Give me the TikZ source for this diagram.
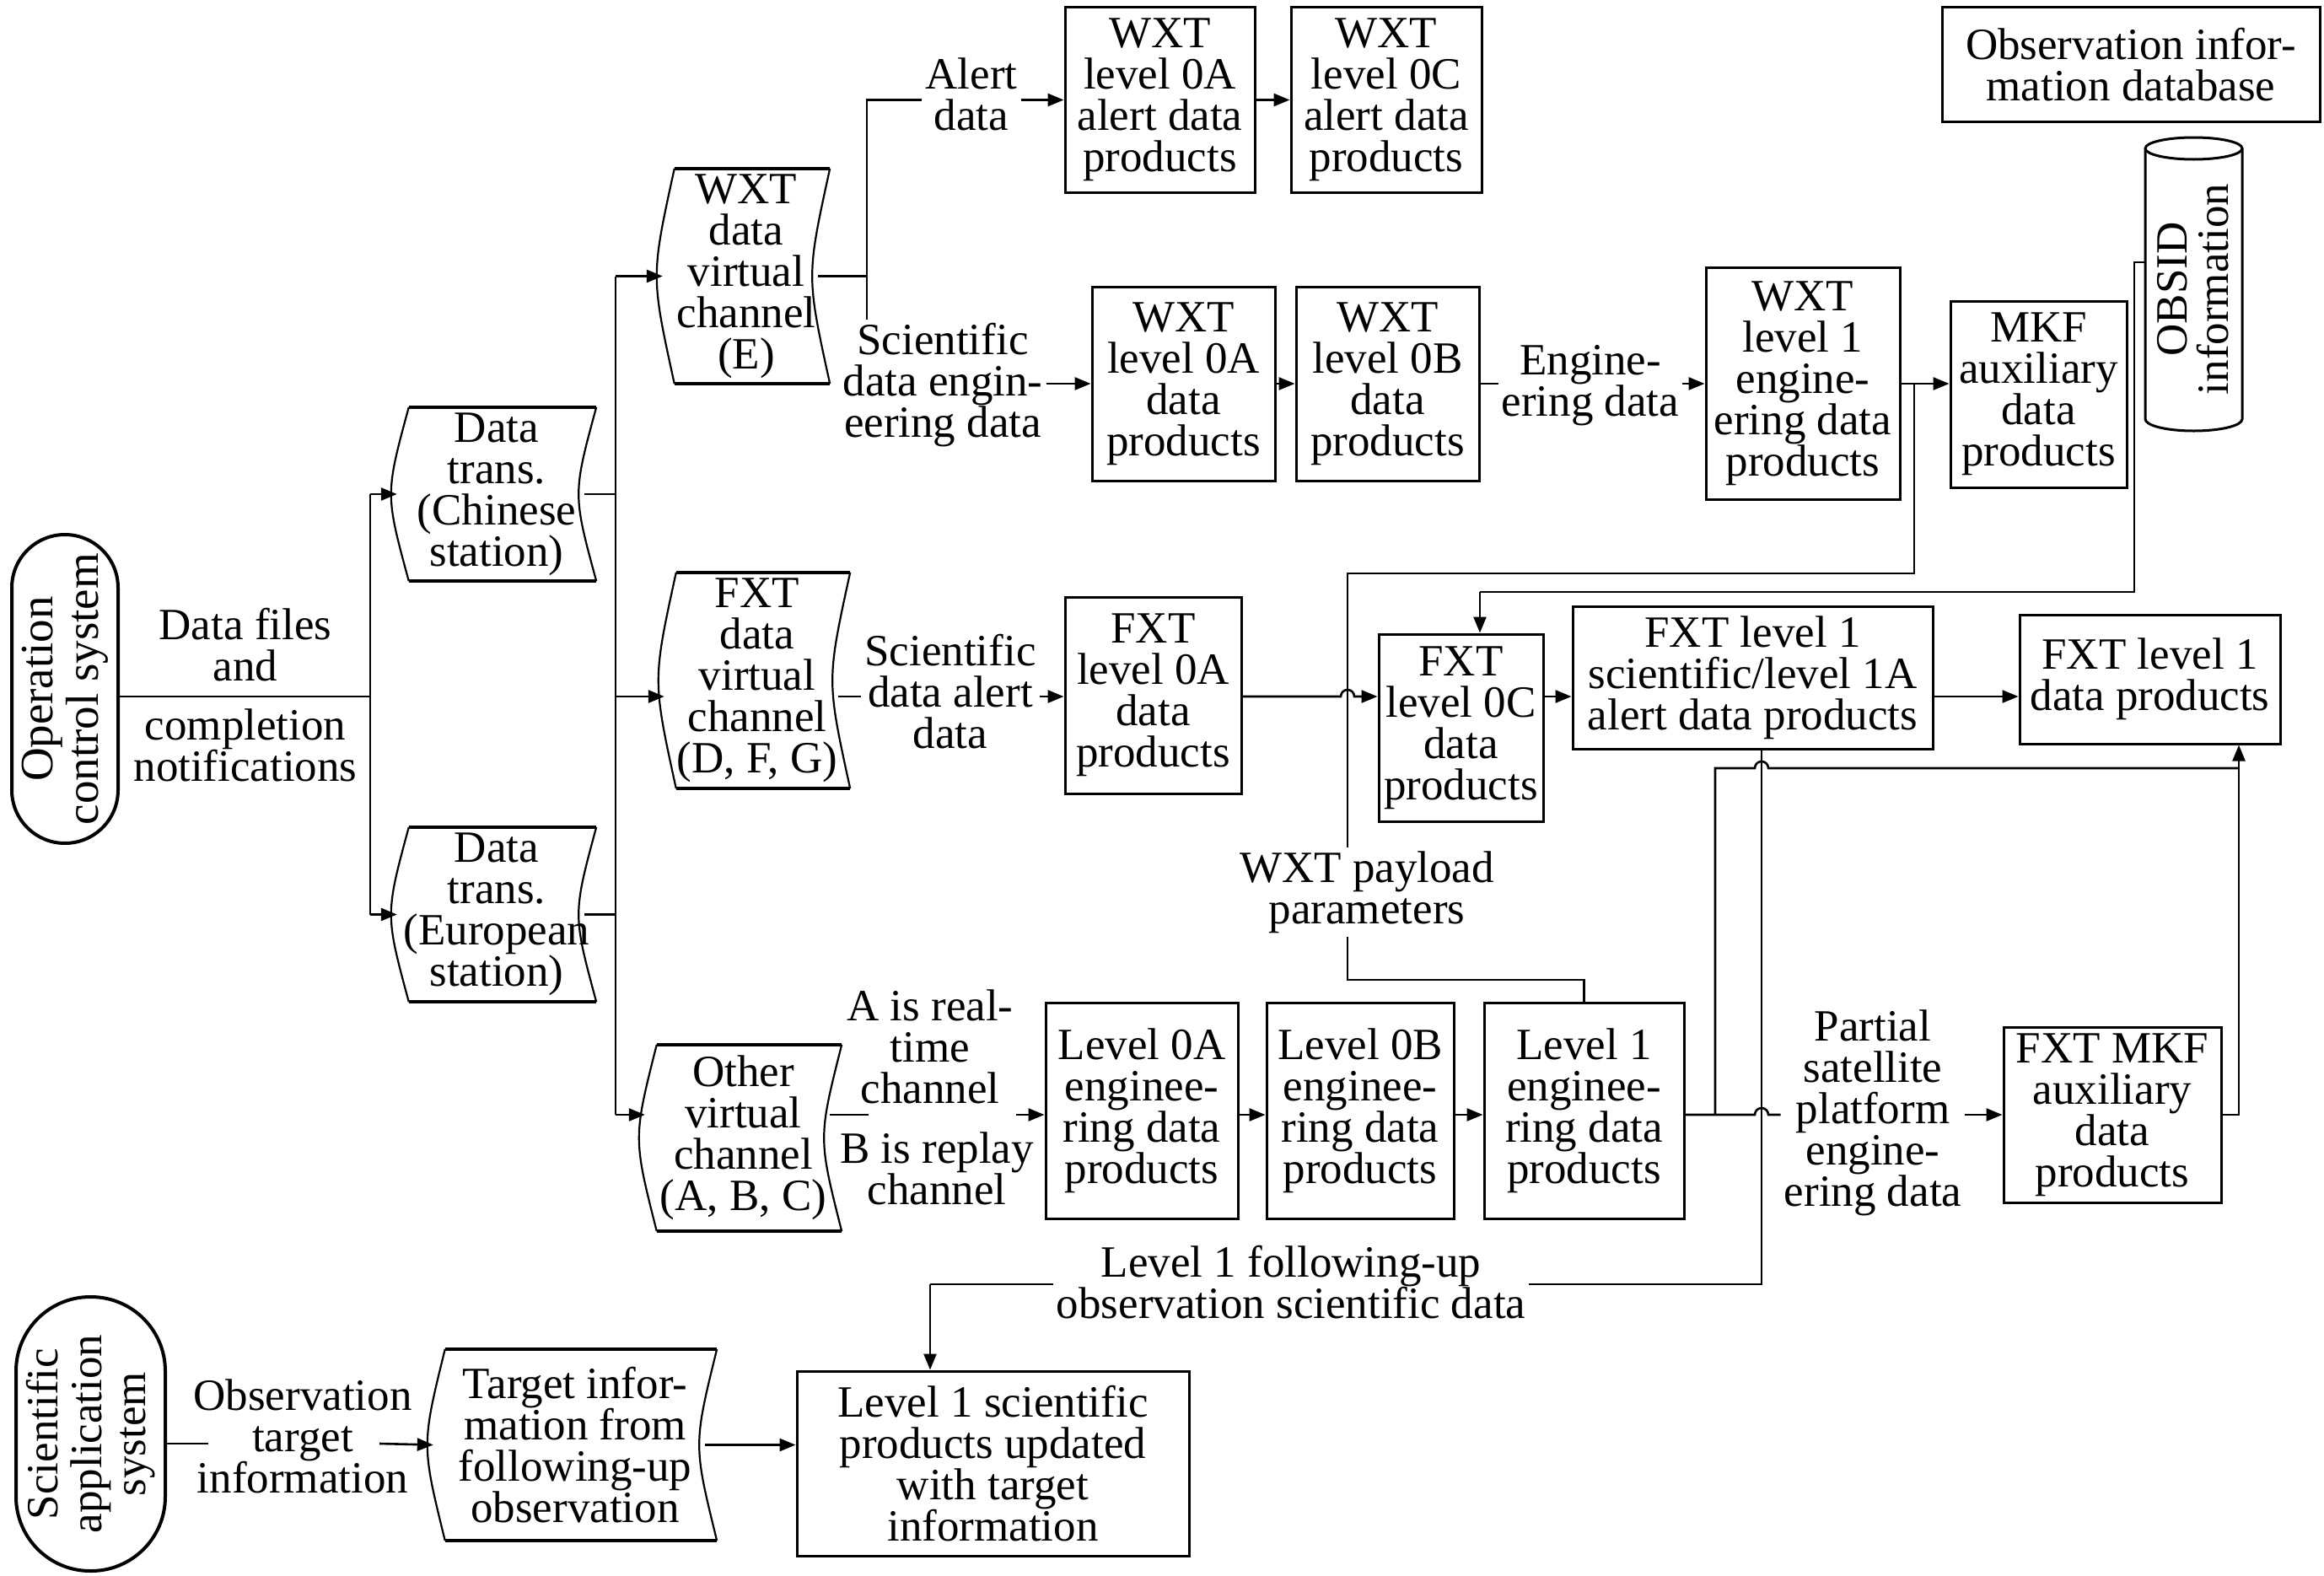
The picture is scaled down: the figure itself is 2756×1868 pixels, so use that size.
\documentclass[tikz,border=0pt]{standalone}
\usepackage{fontspec}
\setmainfont{Liberation Serif}
\usetikzlibrary{arrows.meta,calc}
\newcommand\tapenode[6]{%
  \node[txt, inner sep=0pt, minimum width=#4, minimum height=#5, xshift=-7pt] (#1) at (#2,#3) {#6};
  \draw[line width=2.2pt] ([xshift=7pt]#1.north west) .. controls ([xshift=-21pt]#1.west) .. ([xshift=7pt]#1.south west);
  \draw[line width=2.2pt] ([xshift=7pt]#1.north east) .. controls ([xshift=-21pt]#1.east) .. ([xshift=7pt]#1.south east);
  \draw[line width=4.5pt] ([xshift=7pt]#1.north west) -- ([xshift=7pt]#1.north east);
  \draw[line width=4.5pt] ([xshift=7pt]#1.south west) -- ([xshift=7pt]#1.south east);
  \coordinate (#1-in) at ([xshift=-7pt]#1.west);
  \coordinate (#1-out) at ([xshift=-7pt]#1.east);
}
\begin{document}
\begin{tikzpicture}[x=1pt,y=-1pt,
  txt/.style={font=\fontsize{53}{49}\selectfont, align=center, inner sep=4pt},
  box/.style={txt, draw, line width=3pt, inner sep=0pt},
  ln/.style={line width=2.6pt},
  arr/.style={ln, -{Triangle[length=19pt,width=15pt]}},
]
\useasboundingbox (0,0) rectangle (2756,1868);

% ---------- terminals ----------
\node[draw, line width=4pt, rounded corners=63pt, minimum width=126, minimum height=366] (ocs) at (77,817) {};
\node[txt, rotate=90, font=\fontsize{55}{54}\selectfont] at (ocs) {Operation\\control system};
\node[draw, line width=4pt, rounded corners=88pt, minimum width=177, minimum height=325] (sas) at (107.5,1700.5) {};
\node[txt, rotate=90, font=\fontsize{53}{52}\selectfont] at (sas) {Scientific\\application\\system};

% ---------- tape shapes ----------
\tapenode{dtc}{596}{586}{222}{206}{Data\\trans.\\(Chinese\\station)}
\tapenode{dte}{596}{1084.5}{222}{207}{Data\\trans.\\(European\\station)}
\tapenode{wch}{892}{327.5}{184}{255}{WXT\\data\\virtual\\channel\\(E)}
\tapenode{fch}{905}{807}{206}{256}{FXT\\data\\virtual\\channel\\(D, F, G)}
\tapenode{och}{888.5}{1349.5}{219}{221}{Other\\virtual\\channel\\(A, B, C)}
\tapenode{tgt}{689}{1713.5}{322}{227}{Target infor-\\mation from\\following-up\\observation}

% ---------- boxes ----------
\node[box, minimum width=225, minimum height=219] (wa0A) at (1375.5,118.5) {WXT\\level 0A\\alert data\\products};
\node[box, minimum width=226, minimum height=219] (wa0C) at (1644,118.5) {WXT\\level 0C\\alert data\\products};
\node[box, minimum width=448, minimum height=135] (obsdb) at (2527,76.5) {Observation infor-\\mation database};
\node[box, minimum width=217, minimum height=230] (w0A) at (1403.5,455) {WXT\\level 0A\\data\\products};
\node[box, minimum width=217, minimum height=230] (w0B) at (1645.5,455) {WXT\\level 0B\\data\\products};
\node[box, minimum width=230, minimum height=275] (w1) at (2138,455) {WXT\\level 1\\engine-\\ering data\\products};
\node[box, minimum width=209, minimum height=221] (mkf) at (2417.5,467.5) {MKF\\auxiliary\\data\\products};
\node[box, minimum width=209, minimum height=233] (f0A) at (1367.5,824.5) {FXT\\level 0A\\data\\products};
\node[box, minimum width=195, minimum height=222] (f0C) at (1732.5,863) {FXT\\level 0C\\data\\products};
\node[box, minimum width=427, minimum height=169] (f1s) at (2078.5,803.5) {FXT level 1\\scientific/level 1A\\alert data products};
\node[box, minimum width=309, minimum height=153] (f1d) at (2549.5,805.5) {FXT level 1\\data products};
\node[box, minimum width=228, minimum height=256] (l0A) at (1354,1317) {Level 0A\\enginee-\\ring data\\products};
\node[box, minimum width=222, minimum height=256] (l0B) at (1613,1317) {Level 0B\\enginee-\\ring data\\products};
\node[box, minimum width=237, minimum height=256] (l1e) at (1878.5,1317) {Level 1\\enginee-\\ring data\\products};
\node[box, minimum width=258, minimum height=208] (fmkf) at (2505,1322) {FXT MKF\\auxiliary\\data\\products};
\node[box, minimum width=465, minimum height=219] (l1sci) at (1177.5,1735.5) {Level 1 scientific\\products updated\\with target\\information};

% ---------- cylinder ----------
\draw[line width=3pt] (2544,176) -- (2544,497) arc[start angle=180,end angle=360,x radius=57.5pt,y radius=14pt] -- (2659,176);
\draw[line width=3pt] (2601.5,176) ellipse[x radius=57.5pt,y radius=13pt];
\node[txt, rotate=90] (obsid) at (2601,343) {OBSID\\information};
\coordinate (cylW) at (2544,311);

% ---------- labels ----------
\node[txt] (df1) at (291,765) {Data files\\and};
\node[txt] (df2) at (291,884) {completion\\notifications};
\node[txt] (alert) at (1152,112) {Alert\\data};
\node[txt] (scieng) at (1118,457) {Scientific\\data engin-\\eering data};
\node[txt] (eng) at (1886,457) {Engine-\\ering data};
\node[txt] (sda) at (1127,820) {Scientific\\data alert\\data};
\node[txt] (wxtpay) at (1621,1058) {WXT payload\\parameters};
\node[txt] (ab) at (1103,1241) {A is real-\\time\\channel};
\node[txt] (bb) at (1111,1386) {B is replay\\channel};
\node[txt] (psp) at (2221,1320) {Partial\\satellite\\platform\\engine-\\ering data};
\node[txt] (l1f) at (1531,1521) {Level 1 following-up\\observation scientific data};
\node[txt] (otg) at (359,1703) {Observation\\target\\information};

% ---------- coordinates ----------
\coordinate (b1) at (439,826);
\coordinate (b2) at (730,826);
\coordinate (vj) at (1028,0);
\coordinate (rowF) at (0,826);
\coordinate (rowO) at (0,1322);
\coordinate (j1) at (2270,455);
\coordinate (pA) at (2270,680);
\coordinate (pB) at (1598,680);
\coordinate (pC) at (1598,1162);
\coordinate (oA) at (2531,311);
\coordinate (oB) at (2531,702);
\coordinate (oC) at (1755,702);
\coordinate (j2) at (2034,1322);
\coordinate (jR) at (2655,1322);
\coordinate (h911) at (2034,911);
\coordinate (vS) at (2089,1523);
\coordinate (vL) at (1103,1523);
\coordinate (gapL) at (1030,1322);
\coordinate (gapR) at (1205,1322);
\coordinate (sasL) at (247,1712);
\coordinate (sasR) at (450,1712);

% ---------- connectors ----------
\draw[ln] (ocs.east |- b1) -- (b1);
\draw[ln] (b1 |- dtc-in) -- (b1 |- dte-in);
\draw[arr] (b1 |- dtc-in) -- (dtc-in);
\draw[arr] (b1 |- dte-in) -- (dte-in);
\draw[ln] (dtc-out) -- (b2 |- dtc-out);
\draw[ln] (dte-out) -- (b2 |- dte-out);
\draw[ln] (b2 |- wch-in) -- (b2 |- rowO);
\draw[arr] (b2 |- wch-in) -- (wch-in);
\draw[arr] (b2 |- rowF) -- (fch-in |- rowF);
\draw[arr] (b2 |- rowO) -- (och-in |- rowO);

\draw[ln] (wch-out) -- (vj |- wch-out);
\draw[ln] (alert.west |- wa0A.west) -- (vj |- wa0A.west) -- (vj |- scieng.north);
\draw[arr] (alert.east |- wa0A.west) -- (wa0A.west);
\draw[arr] (wa0A.east) -- (wa0C.west);
\draw[arr] (scieng.east |- w0A.west) -- (w0A.west);
\draw[arr] (w0A.east) -- (w0B.west);
\draw[ln] (w0B.east) -- (eng.west |- w0B.east);
\draw[arr] (eng.east |- w0B.east) -- (w1.west);
\draw[arr] (w1.east) -- (mkf.west |- w1.east);

\draw[ln] (j1) -- (pA) -- (pB) -- (pB |- wxtpay.north);
\draw[ln] (pB |- wxtpay.south) -- (pC) -- (pC -| l1e.north) -- (l1e.north);

\draw[ln] (cylW) -- (oA) -- (oB) -- (oC);
\draw[arr] (oC) -- (oC |- f0C.north);

\draw[ln] (fch-out |- rowF) -- (sda.west |- rowF);
\draw[arr] (sda.east |- rowF) -- (f0A.west |- rowF);
\draw[arr] (f0A.east |- rowF) -- (1590,826) arc[start angle=180,end angle=0,radius=8pt] -- (f0C.west |- rowF);
\draw[arr] (f0C.east |- rowF) -- (f1s.west |- rowF);
\draw[arr] (f1s.east |- rowF) -- (f1d.west |- rowF);

\draw[ln] (och-out |- rowO) -- (gapL);
\draw[arr] (gapR) -- (l0A.west |- rowO);
\draw[arr] (l0A.east |- rowO) -- (l0B.west |- rowO);
\draw[arr] (l0B.east |- rowO) -- (l1e.west |- rowO);
\draw[ln] (l1e.east |- rowO) -- (2081,1322) arc[start angle=180,end angle=0,radius=8pt] -- (psp.west |- rowO);
\draw[arr] (psp.east |- rowO) -- (fmkf.west |- rowO);
\draw[arr] (fmkf.east |- rowO) -- (jR) -- (jR |- f1d.south);
\draw[ln] (j2) -- (h911) -- (2081,911) arc[start angle=180,end angle=0,radius=8pt] -- (jR |- h911);

\draw[ln] (vS |- f1s.south) -- (vS) -- (l1f.east |- vS);
\draw[ln] (l1f.west |- vS) -- (vL);
\draw[arr] (vL) -- (vL |- l1sci.north);

\draw[ln] (sas.east |- sasL) -- (sasL);
\draw[arr] (sasR) -- (tgt-in);
\draw[arr] (tgt-out) -- (l1sci.west |- tgt-out);
\end{tikzpicture}
\end{document}
